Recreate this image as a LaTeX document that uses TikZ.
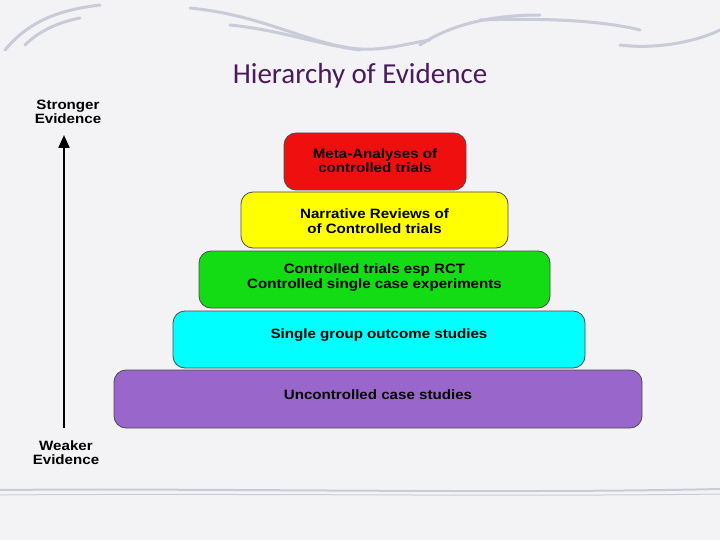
\documentclass[tikz,border=0pt]{standalone}
\usepackage{fontspec}
\setmainfont{Liberation Sans}
\newfontfamily\titlefont{Carlito}
\newfontfamily\widefont[FakeStretch=1.12]{Liberation Sans}
\usetikzlibrary{arrows.meta}
\definecolor{bg}{HTML}{F3F3F6}
\definecolor{titlec}{HTML}{4A1A5E}
\definecolor{swoosh}{HTML}{C9CCD6}
\definecolor{cred}{HTML}{F00F0F}
\definecolor{cyel}{HTML}{FFFF00}
\definecolor{cgrn}{HTML}{14DC14}
\definecolor{ccyn}{HTML}{00FFFF}
\definecolor{cpur}{HTML}{9966CC}
\tikzset{
  lvl/.style={draw=black!70, line width=0.8pt, rounded corners=12pt, align=center,
    font=\widefont\fontsize{13.5}{14.5}\selectfont\bfseries, inner sep=0pt},
  txt/.style={align=center, font=\widefont\fontsize{13.5}{14.5}\selectfont\bfseries},
  side/.style={align=center, font=\widefont\fontsize{13.5}{14}\selectfont\bfseries},
  sw/.style={swoosh, line width=3pt, line cap=round}
}
\begin{document}
\begin{tikzpicture}[x=1pt,y=-1pt]
\fill[bg] (0,0) rectangle (720,540);
\useasboundingbox (0,0) rectangle (720,540);
% decorative swooshes
\draw[sw] (5,50) .. controls (30,20) and (60,10) .. (100,5);
\draw[sw] (25,45) .. controls (40,30) and (60,22) .. (80,18);
\draw[sw] (190,8) .. controls (260,15) and (300,40) .. (350,48) .. controls (380,52) and (400,45) .. (430,40);
\draw[sw] (230,25) .. controls (280,30) and (320,45) .. (360,50);
\draw[sw] (420,45) .. controls (450,25) and (490,15) .. (540,15);
\draw[sw] (480,20) .. controls (540,18) and (600,20) .. (640,30);
\draw[sw] (620,45) .. controls (660,50) and (700,40) .. (720,30);
\draw[sw,line width=2pt] (0,490) .. controls (200,488) and (500,494) .. (720,489);
\draw[swoosh,line width=1pt] (0,495) .. controls (250,493) and (500,497) .. (720,494);
% title
\node[font=\titlefont\fontsize{29}{30}\selectfont, text=titlec] (title) at (360,76) {Hierarchy of Evidence};
% levels
\node[lvl, fill=cpur, minimum width=528pt, minimum height=58pt] (l5) at (378,399) {};
\node[lvl, fill=ccyn, minimum width=412pt, minimum height=57pt] (l4) at (379,339.5) {};
\node[lvl, fill=cgrn, minimum width=351pt, minimum height=57pt] (l3) at (374.5,279.5) {};
\node[lvl, fill=cyel, minimum width=267pt, minimum height=56pt] (l2) at (374.5,220) {};
\node[lvl, fill=cred, minimum width=182pt, minimum height=57pt] (l1) at (375,161.5) {};
\node[txt] (t5) at ([yshift=4pt]l5.center) {Uncontrolled case studies};
\node[txt] (t4) at ([yshift=4pt]l4.center) {Single group outcome studies};
\node[txt] (t3) at ([yshift=2pt]l3.center) {Controlled trials esp RCT\\Controlled single case experiments};
\node[txt] (t2) at ([yshift=-1pt]l2.center) {Narrative Reviews of\\of Controlled trials};
\node[txt] (t1) at ([yshift=1pt]l1.center) {Meta-Analyses of\\controlled trials};
% axis
\node[side] (strong) at (68,112) {Stronger\\Evidence};
\node[side] (weak) at (66,453) {Weaker\\Evidence};
\coordinate (abot) at (64,428);
\coordinate (atop) at (64,135);
\draw[line width=2.2pt, -{Triangle[length=13pt,width=11pt]}] (abot) -- (atop);
\end{tikzpicture}
\end{document}
